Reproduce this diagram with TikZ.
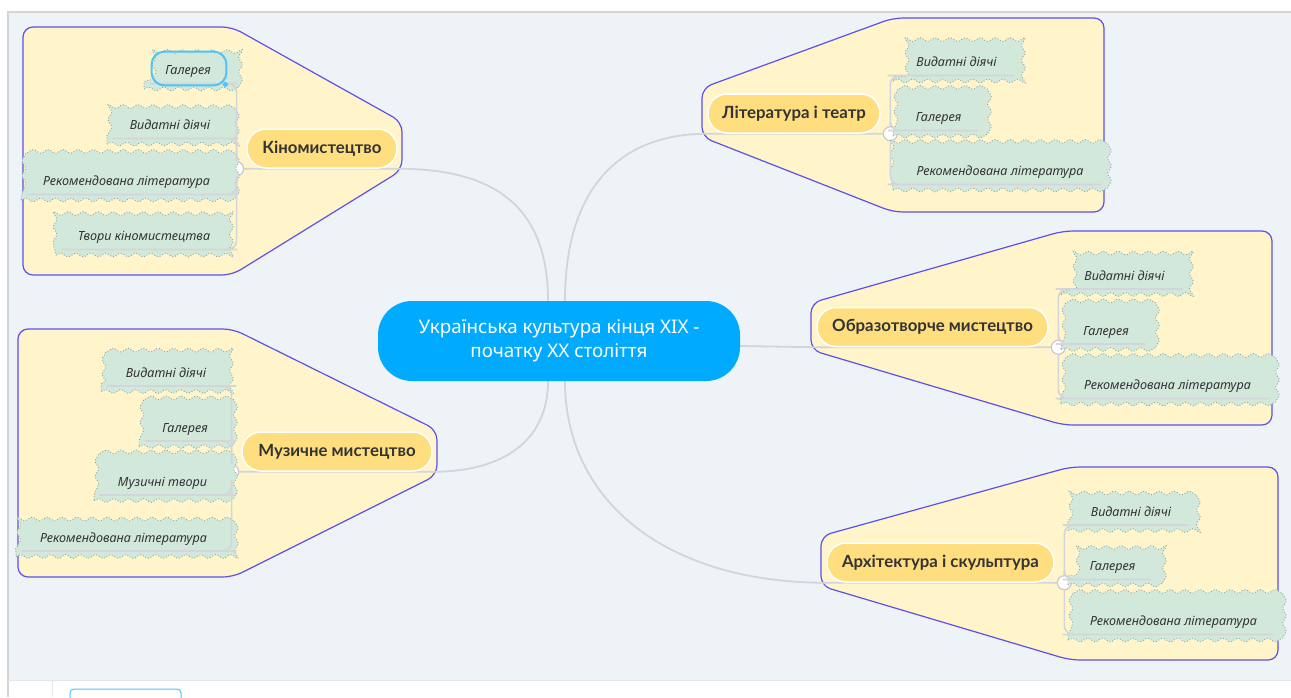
\documentclass[tikz,border=0pt]{standalone}
\usepackage{fontspec}
\setmainfont{Noto Sans}
\newfontfamily\topicfont{Lato}
\usetikzlibrary{positioning,decorations.pathmorphing}

\definecolor{canvasbg}{HTML}{EEF3F7}
\definecolor{rootblue}{HTML}{00AAFF}
\definecolor{topicyel}{HTML}{FFDE80}
\definecolor{bndfill}{HTML}{FFF4CA}
\definecolor{bndline}{HTML}{5E50E8}
\definecolor{cloudfill}{HTML}{D2E8DB}
\definecolor{cloudline}{HTML}{8FA3A0}
\definecolor{linegray}{HTML}{D2D5DA}
\definecolor{knobgray}{HTML}{C6CAD0}
\definecolor{txtgray}{HTML}{333333}
\definecolor{selblue}{HTML}{4FC3F7}
\definecolor{framegray}{HTML}{D4D4D4}

\pgfdeclarelayer{bg}
\pgfsetlayers{bg,main}

\begin{document}
\begin{tikzpicture}[
    x=1pt, y=-1pt,
    every node/.style={text=txtgray},
    rootbox/.style={fill=rootblue, text=white, rounded corners=34pt, minimum width=362pt, minimum height=80pt, align=center, font=\fontsize{18.8}{24}\selectfont},
    topicbox/.style={fill=topicyel, draw=white, line width=1.5pt, rounded corners=19pt, minimum height=39pt, inner xsep=12pt, font=\topicfont\bfseries\fontsize{16.8}{18}\selectfont},
    subbox/.style={draw=cloudline, dotted, fill=cloudfill, line width=0.9pt, decorate, decoration={snake, segment length=15pt, amplitude=1.8pt}, minimum height=43pt, inner sep=0pt, text height=14pt, text depth=0pt, font=\itshape\fontsize{12.6}{15}\selectfont},
    knob/.style={circle, draw=knobgray, line width=1.2pt, fill=white, minimum size=14pt, inner sep=0pt},
    branch/.style={draw=linegray, line width=1.6pt, rounded corners=9pt},
    mainline/.style={draw=linegray, line width=1.8pt},
    bound/.style={draw=bndline, fill=bndfill, line width=1.2pt, rounded corners=10pt}
]
\useasboundingbox (0,0) rectangle (1291,697);

% central idea
\node[rootbox] (root) at (559,341) {Українська культура кінця XIX -\\початку XX століття};

% main topics
\node[topicbox, minimum width=150pt] (kino) at (322,148.5) {Кіномистецтво};
\node[topicbox, minimum width=172pt] (lit) at (794,113.5) {Література і театр};
\node[topicbox, minimum width=231pt] (obraz) at (932.5,327) {Образотворче мистецтво};
\node[topicbox, minimum width=227pt] (arch) at (940.5,562.5) {Архітектура і скульптура};
\node[topicbox, minimum width=190pt] (muz) at (337,451.5) {Музичне мистецтво};

% Кіномистецтво
\node[knob, left=2pt of kino.south west] (kinoDot) {};
\node[subbox, minimum width=88pt] (kinoG) at (188,67.5) {Галерея};
\node[subbox, minimum width=126pt] (kinoV) at (170,122.5) {Видатні діячі};
\node[subbox, minimum width=211pt] (kinoR) at (126.5,178.5) {Рекомендована література};
\node[subbox, minimum width=176pt] (kinoT) at (144,233.5) {Твори кіномистецтва};
\draw[branch] (kinoDot) |- ([xshift=-4pt,yshift=6pt]kinoG.south east) -- ([xshift=6pt,yshift=6pt]kinoG.south west);
\draw[branch] (kinoDot) |- ([xshift=-4pt,yshift=6pt]kinoV.south east) -- ([xshift=6pt,yshift=6pt]kinoV.south west);
\draw[branch] (kinoDot) |- ([xshift=-4pt,yshift=6pt]kinoR.south east) -- ([xshift=6pt,yshift=6pt]kinoR.south west);
\draw[branch] (kinoDot) |- ([xshift=-4pt,yshift=6pt]kinoT.south east) -- ([xshift=6pt,yshift=6pt]kinoT.south west);
\draw[selblue, line width=2pt, rounded corners=13pt] ([shift={(8pt,-6pt)}]kinoG.north west) rectangle ([shift={(-6pt,4pt)}]kinoG.south east);
\fill[selblue] ([shift={(-7pt,5pt)}]kinoG.south east) circle (2.5);

% Література і театр
\node[knob, right=2pt of lit.south east] (litDot) {};
\node[subbox, minimum width=127pt] (litV) at (956.5,59.5) {Видатні діячі};
\node[subbox, minimum width=91pt] (litG) at (938.5,114.5) {Галерея};
\node[subbox, minimum width=214pt] (litR) at (1000,168.5) {Рекомендована література};
\draw[branch] (litDot) |- ([xshift=4pt,yshift=6pt]litV.south west) -- ([xshift=-6pt,yshift=6pt]litV.south east);
\draw[branch] (litDot) |- ([xshift=4pt,yshift=6pt]litG.south west) -- ([xshift=-6pt,yshift=6pt]litG.south east);
\draw[branch] (litDot) |- ([xshift=4pt,yshift=6pt]litR.south west) -- ([xshift=-6pt,yshift=6pt]litR.south east);

% Образотворче мистецтво
\node[knob, right=2pt of obraz.south east] (obrDot) {};
\node[subbox, minimum width=127pt] (obrV) at (1124.5,273) {Видатні діячі};
\node[subbox, minimum width=90pt] (obrG) at (1106,328) {Галерея};
\node[subbox, minimum width=213pt] (obrR) at (1167.5,382.5) {Рекомендована література};
\draw[branch] (obrDot) |- ([xshift=4pt,yshift=6pt]obrV.south west) -- ([xshift=-6pt,yshift=6pt]obrV.south east);
\draw[branch] (obrDot) |- ([xshift=4pt,yshift=6pt]obrG.south west) -- ([xshift=-6pt,yshift=6pt]obrG.south east);
\draw[branch] (obrDot) |- ([xshift=4pt,yshift=6pt]obrR.south west) -- ([xshift=-6pt,yshift=6pt]obrR.south east);

% Архітектура і скульптура
\node[knob, right=2pt of arch.south east] (arhDot) {};
\node[subbox, minimum width=126pt] (arhV) at (1131,509) {Видатні діячі};
\node[subbox, minimum width=89pt] (arhG) at (1112.5,563.5) {Галерея};
\node[subbox, minimum width=211pt] (arhR) at (1173.5,618.5) {Рекомендована література};
\draw[branch] (arhDot) |- ([xshift=4pt,yshift=6pt]arhV.south west) -- ([xshift=-6pt,yshift=6pt]arhV.south east);
\draw[branch] (arhDot) |- ([xshift=4pt,yshift=6pt]arhG.south west) -- ([xshift=-6pt,yshift=6pt]arhG.south east);
\draw[branch] (arhDot) |- ([xshift=4pt,yshift=6pt]arhR.south west) -- ([xshift=-6pt,yshift=6pt]arhR.south east);

% Музичне мистецтво
\node[knob, left=2pt of muz.south west] (muzDot) {};
\node[subbox, minimum width=130pt] (muzV) at (166,370) {Видатні діячі};
\node[subbox, minimum width=92pt] (muzG) at (185,425) {Галерея};
\node[subbox, minimum width=137pt] (muzM) at (162.5,479) {Музичні твори};
\node[subbox, minimum width=215pt] (muzR) at (123.5,535) {Рекомендована література};
\draw[branch] (muzDot) |- ([xshift=-4pt,yshift=6pt]muzV.south east) -- ([xshift=6pt,yshift=6pt]muzV.south west);
\draw[branch] (muzDot) |- ([xshift=-4pt,yshift=6pt]muzG.south east) -- ([xshift=6pt,yshift=6pt]muzG.south west);
\draw[branch] (muzDot) |- ([xshift=-4pt,yshift=6pt]muzM.south east) -- ([xshift=6pt,yshift=6pt]muzM.south west);
\draw[branch] (muzDot) |- ([xshift=-4pt,yshift=6pt]muzR.south east) -- ([xshift=6pt,yshift=6pt]muzR.south west);

\begin{pgfonlayer}{bg}
% canvas
\fill[white] (0,0) rectangle (1291,697);
\fill[canvasbg] (8,12) rectangle (1291,680);
\draw[framegray, line width=2pt] (8,697) -- (8,12) -- (1291,12);
\draw[framegray!60, line width=1pt] (8,680.5) -- (1291,680.5);
\draw[framegray!60] (52,681) -- (52,697);
\draw[selblue, line width=1pt, rounded corners=4pt] (70,689) rectangle (181,712);
% boundaries
\draw[bound] (23,27) -- (232,27) -- (402,122) -- (402,170) -- (232,275) -- (23,275) -- cycle;
\draw[bound] (702,88) -- (893,18) -- (1104,18) -- (1104,212) -- (893,212) -- (702,137) -- cycle;
\draw[bound] (811,303) -- (1063,231) -- (1272,231) -- (1272,425) -- (1063,425) -- (811,350) -- cycle;
\draw[bound] (821,536) -- (1070,467) -- (1278,467) -- (1278,660) -- (1070,660) -- (821,586) -- cycle;
\draw[bound] (18,329) -- (233,329) -- (437,430) -- (437,475) -- (233,577) -- (18,577) -- cycle;
% connectors
\draw[mainline] ([xshift=-11pt]root.north) .. controls +(0,-100) and +(90,0) .. (kino.south east) -- (kinoDot);
\draw[mainline] ([xshift=6pt]root.north) .. controls +(0,-110) and +(-90,0) .. (lit.south west) -- (litDot);
\draw[mainline] ([yshift=-5pt]root.east) -- (obraz.south west) -- (obrDot);
\draw[mainline] ([xshift=6pt]root.south) .. controls +(0,120) and +(-160,0) .. (arch.south west) -- (arhDot);
\draw[mainline] ([xshift=-11pt]root.south) .. controls +(0,60) and +(70,0) .. (muz.south east) -- (muzDot);
\end{pgfonlayer}
\end{tikzpicture}
\end{document}
